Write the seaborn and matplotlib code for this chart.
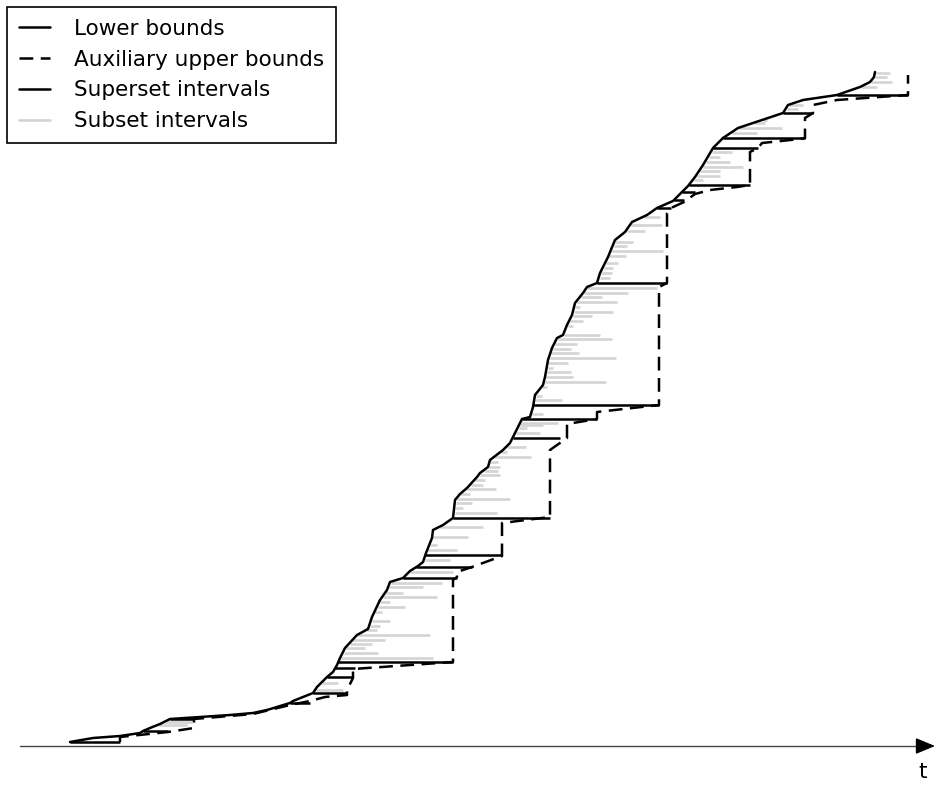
import numpy as np
import matplotlib
matplotlib.use("Agg")
import matplotlib.pyplot as plt
from matplotlib.lines import Line2D
import seaborn as sns

# Lower-bound curve: time t against level (level grows downward on this canvas)
lower_t = [70, 93, 120, 140, 143, 150, 160, 170, 200, 230,
           253, 267, 290, 293, 313, 317, 327, 333, 337, 340,
           345, 357, 368, 372, 380, 387, 390, 403, 410, 418,
           423, 426, 432, 433, 443, 453, 455, 460, 467, 477,
           480, 488, 490, 503, 510, 513, 518, 522, 530, 533,
           535, 543, 545, 548, 552, 557, 563, 567, 572, 575,
           583, 587, 597, 600, 608, 615, 625, 632, 647, 657,
           673, 688, 695, 703, 713, 723, 738, 783, 788, 803,
           837, 860, 870, 874, 875]
lower_v = [742, 738, 736, 733, 731, 728, 724, 719, 717, 715,
           713, 710, 703, 701, 693, 687, 677, 672, 665, 658,
           648, 635, 629, 617, 600, 590, 582, 578, 571, 566,
           562, 553, 538, 530, 525, 518, 500, 494, 488, 477,
           473, 467, 460, 450, 443, 437, 427, 419, 417, 407,
           395, 385, 377, 360, 348, 338, 335, 325, 315, 303,
           293, 287, 283, 273, 257, 240, 232, 222, 215, 208,
           201, 186, 177, 165, 148, 138, 128, 113, 105, 100,
           95, 87, 82, 77, 72]

# Superset intervals: level and right end (left end sits on the lower bound)
super_v = [742, 731, 719, 703, 693, 677, 668, 662, 578, 567, 555, 518,
           438, 419, 405, 283, 208, 200, 192, 185, 148, 138, 113, 95]
super_end = [120, 168, 194, 310, 347, 353, 355, 453, 457, 472, 502, 550,
             560, 597, 659, 667, 671, 684, 695, 750, 758, 805, 813, 908]

# Auxiliary upper bound polyline
aux_t = [120, 120, 168, 194, 194, 253, 290, 310, 325, 347,
         347, 353, 353, 453, 453, 457, 457, 472, 502, 502,
         550, 550, 567, 567, 597, 597, 659, 659, 667, 667,
         671, 684, 695, 710, 737, 750, 750, 758, 762, 800,
         805, 805, 813, 813, 837, 908, 908]
aux_v = [742, 737, 732, 728, 719, 714, 705, 701, 697, 695,
         690, 678, 669, 662, 580, 577, 572, 567, 556, 523,
         517, 450, 438, 424, 419, 412, 405, 287, 283, 213,
         208, 202, 194, 190, 187, 185, 152, 148, 143, 139,
         138, 118, 113, 105, 100, 95, 75]

# Subset intervals: level and right end
sub_v = [725, 722, 690, 683,
         658, 653, 648, 644, 640, 635, 630, 626, 621, 612, 607, 602, 597, 593, 587, 583,
         572, 560,
         550, 545, 537, 527,
         513, 508, 503, 499, 494, 489, 485, 480, 475, 471, 467, 462, 457, 452, 447,
         433, 428, 425, 423, 414,
         400, 396, 387, 382, 377, 372, 368, 363, 358, 353, 349, 344, 339, 335, 326,
         321, 316, 312, 307, 302, 297, 293, 288,
         278, 273, 268, 263, 256, 251, 246, 242, 231, 225, 217,
         180, 176, 171, 167, 162, 157, 152,
         133, 128, 123, 120, 109, 105,
         87, 82, 77, 73]
sub_end = [187, 192, 343, 338,
           433, 378, 365, 372, 385, 430, 377, 380, 390, 382, 405, 390, 437, 403, 423, 442,
           453, 450,
           457, 437, 468, 483,
           497, 463, 472, 510, 470, 496, 483, 485, 500, 498, 500, 498, 531, 507, 526,
           540, 527, 543, 558, 543,
           562, 542, 547, 606, 573, 571, 553, 568, 616, 579, 571, 577, 612, 600, 573,
           583, 592, 613, 580, 617, 602, 628, 657,
           610, 612, 613, 618, 626, 663, 627, 633, 645, 662, 660,
           703, 720, 720, 743, 730, 720, 732,
           757, 782, 765, 767, 798, 803,
           877, 892, 887, 890]

sns.set_theme(style="white")
plt.rcParams["font.family"] = ["DejaVu Sans"]
plt.rcParams["text.color"] = "black"
plt.rcParams["legend.labelcolor"] = "black"

fig = plt.figure(figsize=(9.36, 7.85), dpi=100)
ax = fig.add_axes([0, 0, 1, 1])
ax.set_xlim(0, 936)
ax.set_ylim(785, 0)
ax.axis("off")

LW = 1.8
DASH = (0, (5.5, 3.0))
GRAY = "#d4d4d4"

# left ends of intervals lie on the lower-bound curve
curve_v_inc = np.array(lower_v[::-1], dtype=float)
curve_t_inc = np.array(lower_t[::-1], dtype=float)
sub_start = np.interp(sub_v, curve_v_inc, curve_t_inc) + 1
super_start = np.interp(super_v, curve_v_inc, curve_t_inc)

ax.hlines(sub_v, sub_start, sub_end, colors=GRAY, lw=1.9, zorder=1)
ax.hlines(super_v, super_start, super_end, colors="black", lw=LW, zorder=2)

sns.lineplot(x=aux_t, y=aux_v, sort=False, estimator=None, color="black",
             lw=LW, linestyle=DASH, ax=ax, zorder=3)
sns.lineplot(x=lower_t, y=lower_v, sort=False, estimator=None, color="black",
             lw=LW, ax=ax, zorder=4)

# time axis with arrow head
ax.plot([20, 922], [746, 746], color="#444444", lw=1.0, zorder=5)
ax.annotate("", xy=(935, 746), xytext=(921, 746),
            arrowprops=dict(arrowstyle="-|>,head_length=0.6,head_width=0.25",
                            color="black", lw=1.0, mutation_scale=20,
                            shrinkA=0, shrinkB=0), zorder=6)
ax.text(923, 772, "t", fontsize=15.5, ha="center", va="center", color="black")

handles = [
    Line2D([], [], color="black", lw=LW),
    Line2D([], [], color="black", lw=LW, linestyle=DASH),
    Line2D([], [], color="black", lw=LW),
    Line2D([], [], color=GRAY, lw=1.9),
]
labels = ["Lower bounds", "Auxiliary upper bounds", "Superset intervals",
          "Subset intervals"]
leg = ax.legend(handles, labels, loc="upper left",
                bbox_to_anchor=(7 / 936, 1 - 7 / 785), borderaxespad=0,
                fontsize=15.5, frameon=True, fancybox=False, framealpha=1,
                borderpad=0.55, handlelength=1.45, handletextpad=1.1,
                labelspacing=0.5)
leg.get_frame().set_edgecolor("black")
leg.get_frame().set_linewidth(1.2)

fig.savefig("out.png", dpi=100)
